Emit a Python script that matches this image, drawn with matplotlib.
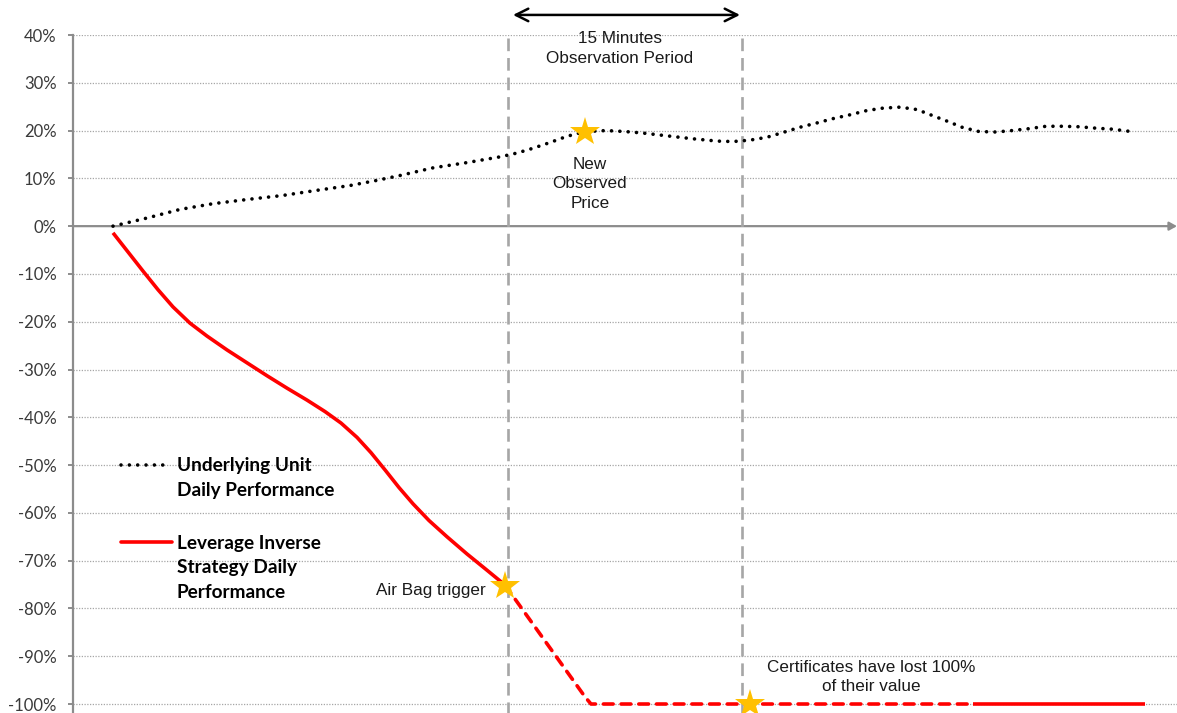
import matplotlib
matplotlib.use("Agg")
import matplotlib.pyplot as plt
from matplotlib.lines import Line2D

# ---------------- data ----------------
# time axis in arbitrary units (0 .. 1104)
under_x = [40, 74, 107, 140, 175, 209, 244, 277, 302, 327, 360, 394, 427, 444, 460,
           477, 494, 512, 533, 552, 569, 594, 619, 644, 660, 677, 694, 710, 727, 744,
           760, 777, 794, 810, 827, 844, 860, 875, 889, 906, 923, 939, 956, 973, 989,
           1006, 1023, 1039, 1058]
under_y = [0.0, 1.7, 3.5, 4.7, 5.6, 6.4, 7.5, 8.5, 9.5, 10.6, 12.2, 13.3, 14.5, 15.3, 16.3,
           17.5, 18.8, 19.8, 20.0, 19.8, 19.5, 18.9, 18.3, 17.8, 17.7, 18.0, 18.6, 19.6, 20.7, 21.6,
           22.5, 23.3, 24.2, 24.7, 24.9, 24.4, 23.1, 21.9, 20.7, 19.8, 19.7, 20.0, 20.4, 20.9, 20.9,
           20.8, 20.5, 20.3, 19.8]

lev_x = [40, 55, 70, 85, 100, 117, 134, 154, 174, 194, 214, 234, 252, 268, 284, 298,
         312, 326, 340, 356, 374, 394, 414, 432]
lev_y = [-1.4, -5.4, -9.4, -13.3, -16.9, -20.3, -23.0, -25.9, -28.6, -31.3, -33.9, -36.4,
         -38.8, -41.2, -44.2, -47.4, -51.0, -54.7, -58.1, -61.6, -65.0, -68.6, -72.0, -75.1]

knock_x = [432, 512, 518, 900]
knock_y = [-75.1, -98.5, -100.0, -100.0]

flat_x = [900, 1072]
flat_y = [-100.0, -100.0]

obs_start, obs_end = 435, 669          # 15-minute observation window
star_x = [512, 432, 677]
star_y = [19.8, -75.3, -100.0]

yticks = list(range(-100, 41, 10))
ytick_labels = [f"{v}%" for v in yticks]
xmax = 1104

# ---------------- figure ----------------
W, H = 1177, 713
fig = plt.figure(figsize=(W / 100, H / 100), dpi=100)
ax = fig.add_axes([73 / W, 0, 1104 / W, 678 / H])
ax.set_xlim(0, xmax)
ax.set_ylim(-101.88, 40)

grey = "#8C8C8C"
for s in ["top", "right", "bottom"]:
    ax.spines[s].set_visible(False)
ax.spines["left"].set_color(grey)
ax.spines["left"].set_linewidth(1.6)
ax.spines["left"].set_bounds(-101.88, 40)

ax.set_yticks(yticks)
ax.set_yticklabels(ytick_labels)
ax.tick_params(axis="y", direction="out", length=3.6, width=1.4, color=grey,
               pad=8.2, labelsize=12, labelcolor="#3A3A3A")
for lbl in ax.get_yticklabels():
    lbl.set_fontfamily("Lato")
ax.set_xticks([])

# dotted grid
for v in yticks:
    if v != 0:
        ax.axhline(v, color="#A6A6A6", lw=0.9, ls=(0, (1, 1.2)), zorder=0)

# horizontal zero axis with arrow
ax.annotate("", xy=(xmax, 0), xytext=(0, 0),
            arrowprops=dict(arrowstyle="-|>,head_length=0.45,head_width=0.25",
                            color=grey, lw=1.6, shrinkA=0, shrinkB=0),
            annotation_clip=False, zorder=1)

# vertical dashed observation lines
for xv in (obs_start, obs_end):
    ax.plot([xv, xv], [39.4, -101.88], color="#A6A6A6", lw=1.9,
            ls=(0, (4.8, 2.6)), zorder=1, clip_on=False)

# double arrow above plot
ax.annotate("", xy=(obs_end - 2, 44.2), xytext=(obs_start + 5, 44.2),
            arrowprops=dict(arrowstyle="<->,head_length=0.9,head_width=0.45",
                            color="black", lw=1.8, shrinkA=0, shrinkB=0),
            annotation_clip=False)

# series
ax.plot(under_x, under_y, color="black", lw=2.6, ls=(0, (0.01, 2.3)),
        dash_capstyle="round", zorder=3)
ax.plot(lev_x, lev_y, color="#FF0000", lw=2.6, solid_capstyle="butt",
        solid_joinstyle="round", zorder=3)
ax.plot(knock_x, knock_y, color="#FF0000", lw=2.6, ls=(0, (2.7, 2.2)),
        dash_capstyle="round", dash_joinstyle="round", zorder=3)
ax.plot(flat_x, flat_y, color="#FF0000", lw=2.6, solid_capstyle="butt", zorder=3)

ax.plot(star_x, star_y, ls="none", marker="*", ms=22, color="#FFC000",
        markeredgewidth=0, zorder=5, clip_on=False)

# ---------------- text ----------------
def fx(px):
    return px / W

def fy(py):
    return 1 - py / H

ann = dict(family="Liberation Sans", fontsize=12.3, color="#1A1A1A")
fig.text(fx(620), fy(48.5), "15 Minutes\nObservation Period", ha="center", va="center",
         linespacing=1.45, **ann)
fig.text(fx(590), fy(184), "New\nObserved\nPrice", ha="center", va="center",
         linespacing=1.4, **ann)
fig.text(fx(486), fy(590), "Air Bag trigger", ha="right", va="center", **ann)
fig.text(fx(871), fy(677), "Certificates have lost 100%\nof their value", ha="center",
         va="center", linespacing=1.4, **ann)

# legend (manual)
fig.add_artist(Line2D([fx(121), fx(167)], [fy(465), fy(465)], color="black", lw=2.6,
                      ls=(0, (0.01, 2.3)), dash_capstyle="round"))
fig.add_artist(Line2D([fx(121), fx(172)], [fy(542), fy(542)], color="#FF0000", lw=2.6,
                      solid_capstyle="round"))
leg = dict(family="Lato", fontsize=13.7, fontweight="bold", color="black",
           ha="left", va="center", linespacing=1.55)
fig.text(fx(177), fy(478), "Underlying Unit\nDaily Performance", **leg)
fig.text(fx(177), fy(568), "Leverage Inverse\nStrategy Daily\nPerformance", **leg)

fig.savefig("out.png", dpi=100)
